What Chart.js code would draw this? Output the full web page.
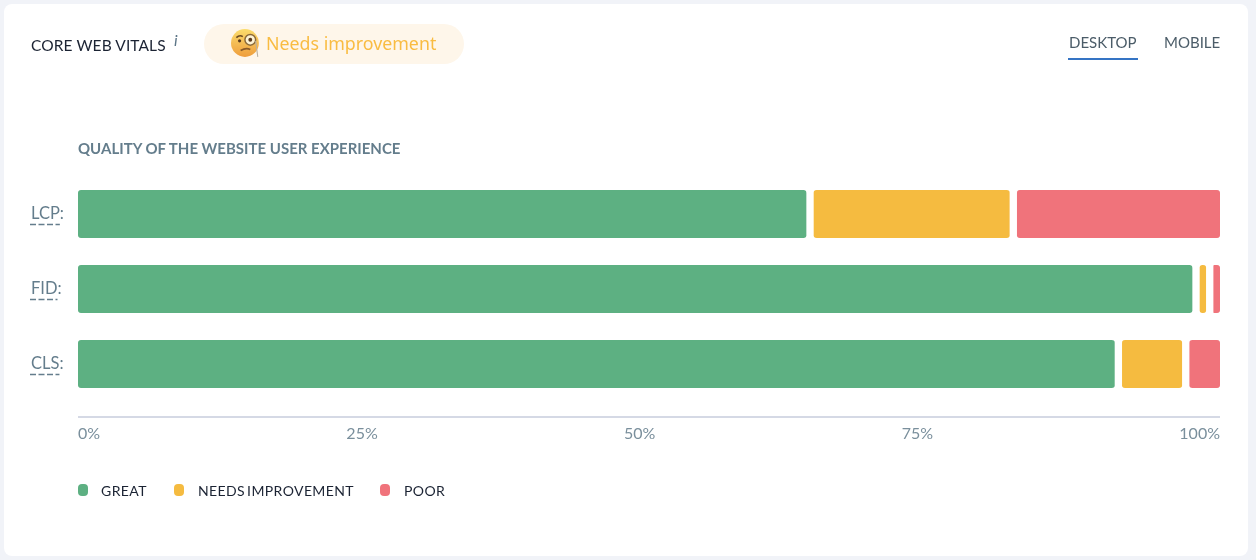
<!DOCTYPE html>
<html>
<head>
<meta charset="utf-8">
<script src="https://cdn.jsdelivr.net/npm/chart.js@4"></script>
<style>
  html, body { margin: 0; padding: 0; background: #f1f3f8; }
  body { width: 1256px; height: 560px; position: relative; overflow: hidden; font-family: Lato, sans-serif; }
  .card { position: absolute; left: 4px; top: 4px; width: 1244px; height: 552px; background: #fff; border-radius: 8px; }
  canvas { position: absolute; left: 0; top: 0; }
  .txt { position: absolute; white-space: nowrap; }
  .title { left: 31px; top: 35.5px; font-size: 15.5px; line-height: 18px; color: #1b2333; letter-spacing: .1px; }
  .info { left: 174px; top: 31px; font-size: 16px; line-height: 18px; font-style: italic; color: #5d7688; }
  .pill { position: absolute; left: 204px; top: 24px; width: 260px; height: 40px; background: #fef6ea; border-radius: 20px; }
  .pill svg { position: absolute; left: 27px; top: 4px; }
  .status { left: 266px; top: 32px; font-family: "Noto Sans", sans-serif; font-size: 17.8px; line-height: 22px; color: #f9bc42; }
  .tab { top: 33px; font-size: 15px; line-height: 18px; color: #4b5c68; }
  .tabline { position: absolute; left: 1068px; top: 58px; width: 70px; height: 2px; background: #3574c4; }
  .sub { left: 78px; top: 139px; font-size: 15px; line-height: 18px; font-weight: 700; color: #647d8c; }
  .dot { position: absolute; top: 484px; width: 10px; height: 12px; border-radius: 4px; }
  .leg { top: 482px; font-size: 14px; line-height: 18px; color: #1b2333; letter-spacing: .4px; word-spacing: -2px; }
</style>
</head>
<body>
<div class="card"></div>
<canvas id="chart" width="1256" height="560"></canvas>
<div class="txt title">CORE WEB VITALS</div>
<div class="txt info">i</div>
<div class="pill">
  <svg width="30" height="30" viewBox="0 0 28 28">
    <defs><linearGradient id="face" x1="0" y1="0" x2="0" y2="1"><stop offset="0" stop-color="#fbdc6c"/><stop offset="1" stop-color="#ee9d3c"/></linearGradient></defs>
    <circle cx="13" cy="14" r="13" fill="url(#face)"/>
    <path d="M5 9 Q8 6 11 8" stroke="#6b4a22" stroke-width="1.5" fill="none"/>
    <circle cx="8" cy="12" r="1.5" fill="#5b3a1c"/>
    <circle cx="18" cy="11" r="5" fill="#fdf3d4" stroke="#8a6a3a" stroke-width="1.4"/>
    <circle cx="18" cy="11" r="1.8" fill="#5b3a1c"/>
    <path d="M9 21 Q14 18 18 20" stroke="#8a5a28" stroke-width="1.5" fill="none"/>
    <path d="M23 12 L25 27" stroke="#b9b0a0" stroke-width="1"/>
  </svg>
</div>
<div class="txt status">Needs improvement</div>
<div class="txt tab" style="left:1069px">DESKTOP</div>
<div class="txt tab" style="left:1164px">MOBILE</div>
<div class="tabline"></div>
<div class="txt sub">QUALITY OF THE WEBSITE USER EXPERIENCE</div>
<div id="legend"></div>
<script>
const categories = ['LCP:', 'FID:', 'CLS:'];
const great = [64.1, 97.9, 91.1];
const needsImprovement = [17.8, 1.2, 5.9];
const poor = [18.1, 0.9, 3];
const seriesNames = ['GREAT', 'NEEDS IMPROVEMENT', 'POOR'];
const seriesColors = ['#5db082', '#f5bb40', '#f0737b'];
const xTicks = [0, 25, 50, 75, 100];

const GAP = 4;

// the original axis spreads its labels edge to edge, not at the true tick positions
const axisStyle = {
  id: 'axisStyle',
  beforeDraw(chart) {
    const { ctx, scales: { x, y } } = chart;
    ctx.save();
    ctx.font = '16px Lato';
    const items = x.getLabelItems();
    const widths = items.map(i => ctx.measureText(i.label).width);
    const free = (x.right - x.left - widths.reduce((a, b) => a + b, 0)) / (items.length - 1);
    let pos = x.left;
    items.forEach((item, i) => {
      item.options.textAlign = 'left';
      item.options.translation[0] = pos;
      pos += widths[i] + free;
    });
    // axis line sits below the last row
    ctx.strokeStyle = '#d5d9e5';
    ctx.lineWidth = 2;
    ctx.beginPath();
    ctx.moveTo(x.left, 417);
    ctx.lineTo(x.right, 417);
    ctx.stroke();
    // dashed underline below the metric names
    ctx.font = '16.5px Lato';
    ctx.strokeStyle = '#647d8c';
    ctx.lineWidth = 1.5;
    ctx.setLineDash([6, 2.5]);
    categories.forEach((name, i) => {
      const py = Math.round(y.getPixelForTick(i)) + 10.5;
      const w = ctx.measureText(name.replace(':', '')).width;
      ctx.beginPath();
      ctx.moveTo(30, py);
      ctx.lineTo(30 + w + 1, py);
      ctx.stroke();
    });
    ctx.restore();
  }
};

function makeDataset(i, values) {
  // white side borders leave the gaps between the segments
  const left = i === 0 ? 0 : GAP;
  const right = i === 2 ? 0 : GAP;
  const rl = 3 + left;
  const rr = 3 + right;
  return {
    label: seriesNames[i],
    data: values,
    backgroundColor: seriesColors[i],
    borderColor: '#ffffff',
    borderWidth: { left: left, right: right, top: 0, bottom: 0 },
    borderSkipped: false,
    borderRadius: { topLeft: rl, bottomLeft: rl, topRight: rr, bottomRight: rr },
    barThickness: 48
  };
}

new Chart(document.getElementById('chart'), {
  type: 'bar',
  data: {
    labels: categories,
    datasets: [makeDataset(0, great), makeDataset(1, needsImprovement), makeDataset(2, poor)]
  },
  options: {
    indexAxis: 'y',
    responsive: false,
    animation: false,
    layout: { padding: { left: 31, right: 36, top: 176.5, bottom: 0 } },
    plugins: { legend: { display: false }, tooltip: { enabled: false } },
    scales: {
      x: {
        stacked: true,
        min: 0,
        max: 100,
        afterFit(scale) { scale.height = 158.5; },
        afterBuildTicks(scale) { scale.ticks = xTicks.map(v => ({ value: v })); },
        grid: { display: false },
        border: { display: false },
        ticks: {
          align: 'inner',
          autoSkip: false,
          maxRotation: 0,
          padding: 15,
          color: '#7a8f9c',
          font: { family: 'Lato', size: 16 },
          callback: v => v + '%'
        }
      },
      y: {
        stacked: true,
        afterFit(scale) { scale.width = 47; },
        grid: { display: false },
        border: { display: false },
        ticks: { crossAlign: 'far', padding: 0, color: '#647d8c', font: { family: 'Lato', size: 16.5 } }
      }
    }
  },
  plugins: [axisStyle]
});

// legend
const legendX = [[78, 101], [174, 198], [380, 404]];
document.getElementById('legend').innerHTML = seriesNames.map((name, i) =>
  '<div class="dot" style="left:' + legendX[i][0] + 'px;background:' + seriesColors[i] + '"></div>' +
  '<div class="txt leg" style="left:' + legendX[i][1] + 'px">' + name + '</div>'
).join('');
</script>
</body>
</html>
